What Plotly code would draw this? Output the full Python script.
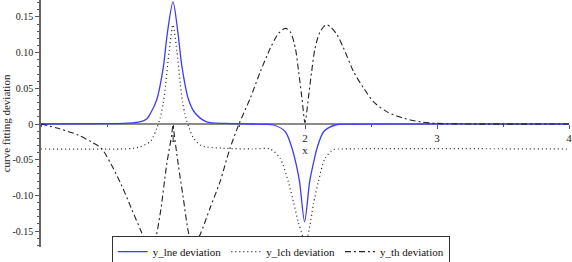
import plotly.graph_objects as go

# ---- data ----
lne_x = [0.0, 0.5, 0.65, 0.75, 0.80, 0.831, 0.877, 0.927, 0.957, 1.0, 1.038, 1.068, 1.118, 1.167, 1.255,
         1.40, 1.60, 1.70, 1.762, 1.851, 1.902, 1.934, 1.959, 1.997, 2.035, 2.061, 2.091, 2.141, 2.23, 2.40, 4.0]
lne_y = [0.0, 0.0005, 0.0012, 0.003, 0.007, 0.0154, 0.034, 0.080, 0.127, 0.171, 0.127, 0.080, 0.034, 0.0154, 0.003,
         0.0008, 0.0, -0.0005, -0.0014, -0.0108, -0.034, -0.0574, -0.081, -0.137, -0.081, -0.0574, -0.034, -0.0108, -0.0014, -0.0003, 0.0]

lch_x = [0.0, 0.6, 0.70, 0.75, 0.826, 0.85, 0.877, 0.902, 0.927, 0.945, 0.972, 1.0, 1.028, 1.055, 1.073, 1.098, 1.123,
         1.15, 1.20, 1.25, 1.38, 1.60, 1.735, 1.811, 1.874, 1.912, 1.949, 1.983, 2.0, 2.038, 2.063, 2.101, 2.152, 2.215,
         2.29, 4.0]
lch_y = [-0.035, -0.035, -0.034, -0.032, -0.025, -0.018, -0.006, 0.008, 0.030, 0.057, 0.104, 0.139, 0.104, 0.057, 0.030,
         0.008, -0.006, -0.018, -0.029, -0.032, -0.034, -0.035, -0.035, -0.048, -0.081, -0.109, -0.137, -0.158, -0.172,
         -0.141, -0.113, -0.081, -0.048, -0.036, -0.035, -0.035]

th_x = [0.0, 0.129, 0.28, 0.381, 0.457, 0.533, 0.608, 0.684, 0.76, 0.798, 0.83, 0.86, 0.902, 0.952, 0.99, 1.0, 1.01,
        1.04, 1.078, 1.116, 1.141, 1.16, 1.205, 1.28, 1.356, 1.432, 1.50, 1.585, 1.661, 1.737, 1.80, 1.851, 1.889,
        1.927, 1.952, 1.977, 2.0, 2.025, 2.05, 2.076, 2.114, 2.16, 2.193, 2.243, 2.293, 2.369, 2.445, 2.52, 2.622,
        2.748, 2.875, 2.99, 3.2, 4.0]
th_y = [0.0, -0.006, -0.0154, -0.025, -0.034, -0.057, -0.085, -0.118, -0.151, -0.167, -0.172, -0.165, -0.127, -0.057,
        -0.0154, -0.001, -0.0154, -0.057, -0.104, -0.151, -0.167, -0.169, -0.155, -0.118, -0.081, -0.034, 0.0, 0.036,
        0.073, 0.106, 0.127, 0.134, 0.129, 0.106, 0.073, 0.036, 0.002, 0.036, 0.073, 0.106, 0.129, 0.139, 0.136,
        0.125, 0.106, 0.073, 0.050, 0.031, 0.017, 0.008, 0.003, 0.001, 0.0, 0.0]

series_names = ["y_lne deviation", "y_lch deviation", "y_th deviation"]

x_ticks = [1, 2, 3, 4]
x_ticklabels = ["1", "2", "3", "4"]
y_ticks = [-0.15, -0.10, -0.05, 0, 0.05, 0.10, 0.15]
y_ticklabels = ["-0.15", "-0.10", "-0.05", "0", "0.05", "0.10", "0.15"]

X_RANGE = [0, 4]
Y_RANGE = [-0.1723, 0.1737]

FONT = "Liberation Serif"

fig = go.Figure()
fig.add_trace(go.Scatter(x=lne_x, y=lne_y, mode="lines", name=series_names[0],
                         line=dict(color="#3c3cff", width=1.3, shape="spline", smoothing=0.8)))
fig.add_trace(go.Scatter(x=lch_x, y=lch_y, mode="lines", name=series_names[1],
                         line=dict(color="#222222", width=1.2, dash="1px,3px", shape="spline", smoothing=0.8)))
fig.add_trace(go.Scatter(x=th_x, y=th_y, mode="lines", name=series_names[2],
                         line=dict(color="#222222", width=1.1, dash="6px,3px,2px,3px", shape="spline", smoothing=0.8)))

xpos = (0 - Y_RANGE[0]) / (Y_RANGE[1] - Y_RANGE[0])

fig.update_layout(
    width=572, height=262,
    margin=dict(l=41, r=3, t=0, b=15, autoexpand=False),
    paper_bgcolor="white", plot_bgcolor="white",
    font=dict(family=FONT, size=11, color="#222222"),
    showlegend=True,
    legend=dict(orientation="h", x=0.454, xanchor="center", y=0.044, yanchor="top",
                bordercolor="#333333", borderwidth=1, bgcolor="white",
                font=dict(family=FONT, size=11, color="#111111"),
                itemwidth=30, tracegroupgap=0),
    xaxis=dict(range=X_RANGE, anchor="free", position=xpos, showgrid=False, zeroline=False,
               automargin=False, ticklabeloverflow="allow",
               showline=True, linecolor="#8a8a8a", linewidth=2,
               tickvals=x_ticks, ticktext=x_ticklabels, ticks="outside", ticklen=4, tickcolor="#555555",
               minor=dict(dtick=0.5, ticks="outside", ticklen=2, tickcolor="#555555"),
               tickfont=dict(family=FONT, size=11),
               title=dict(text="x", font=dict(family=FONT, size=11), standoff=0),
               layer="below traces"),
    yaxis=dict(range=Y_RANGE, showgrid=False, zeroline=False, automargin=False,
               showline=True, linecolor="#666666", linewidth=1.5,
               tickvals=y_ticks, ticktext=y_ticklabels, ticks="outside", ticklen=4, tickcolor="#555555",
               minor=dict(dtick=0.01, ticks="outside", ticklen=2, tickcolor="#555555"),
               tickfont=dict(family=FONT, size=10),
               title=dict(text="curve fitting deviation", font=dict(family=FONT, size=11), standoff=2),
               layer="below traces"),
)

fig.write_html("out.html", config={"displayModeBar": False},
               post_script="document.body.style.margin='0px';")
